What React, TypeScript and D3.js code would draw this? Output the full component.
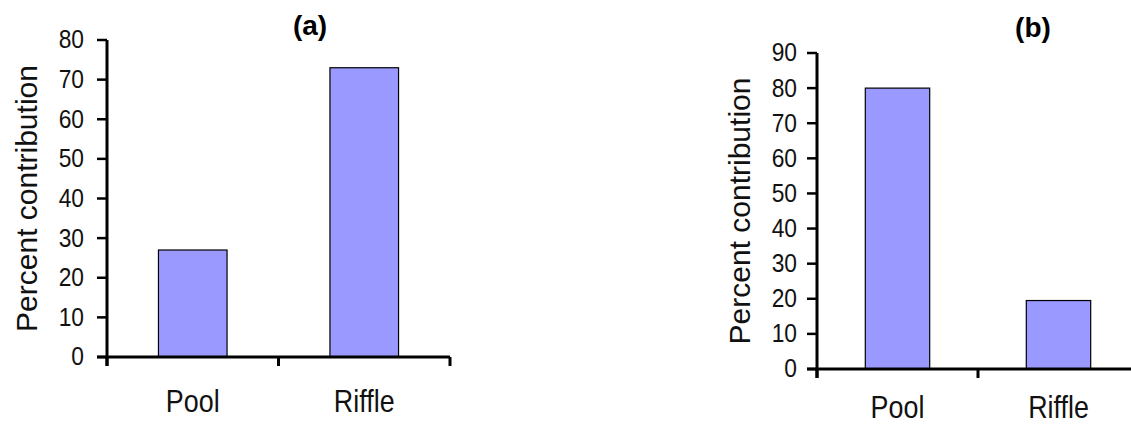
import React from "react";
import * as d3 from "d3";

// chart values
const categories = ["Pool", "Riffle"];
const valuesA = [27, 73];
const valuesB = [80, 19.5];
const yTicksA = [0, 10, 20, 30, 40, 50, 60, 70, 80];
const yTicksB = [0, 10, 20, 30, 40, 50, 60, 70, 80, 90];
const titles = ["(a)", "(b)"];
const yLabel = "Percent contribution";

const FONT = "'Liberation Sans', Arial, sans-serif";

const panels = [
  {
    title: titles[0],
    values: valuesA,
    ticks: yTicksA,
    left: 107,
    right: 450,
    top: 40,
    bottom: 357,
    titleX: 310,
    titleY: 35,
    labelX: 37,
    catY: 412,
    tickGap: 23,
  },
  {
    title: titles[1],
    values: valuesB,
    ticks: yTicksB,
    left: 817,
    right: 1139,
    top: 53,
    bottom: 369,
    titleX: 1033,
    titleY: 37,
    labelX: 750,
    catY: 418,
    tickGap: 20,
  },
];

// stretch a text around its anchor point
const stretch = (x, y, sx, sy) =>
  `translate(${x},${y}) scale(${sx},${sy}) translate(${-x},${-y})`;

const Panel = ({ p }) => {
  const x = d3
    .scaleBand()
    .domain(categories)
    .range([p.left, p.right])
    .paddingInner(0.6)
    .paddingOuter(0.3);

  const y = d3
    .scaleLinear()
    .domain([0, d3.max(p.ticks)])
    .range([p.bottom, p.top]);

  const step = x.step();
  // category boundary ticks on the x axis
  const xTicks = d3.range(categories.length + 1).map((i) => p.left + i * step);
  const midY = (p.top + p.bottom) / 2;

  return (
    <g>
      <text
        x={p.titleX}
        y={p.titleY}
        textAnchor="middle"
        fontFamily={FONT}
        fontWeight="bold"
        fontSize={28}
      >
        {p.title}
      </text>

      {categories.map((c, i) => (
        <rect
          key={c}
          x={x(c)}
          y={y(p.values[i])}
          width={x.bandwidth()}
          height={y(0) - y(p.values[i])}
          fill="#9999ff"
          stroke="#000"
          strokeWidth={1.2}
        />
      ))}

      {/* y axis */}
      <line x1={p.left} x2={p.left} y1={p.top} y2={p.bottom + 9} stroke="#000" strokeWidth={3} />
      {p.ticks.map((t) => (
        <g key={t}>
          <line x1={p.left - 10} x2={p.left} y1={y(t)} y2={y(t)} stroke="#000" strokeWidth={2.5} />
          <text
            x={p.left - p.tickGap}
            y={y(t) + 8.5}
            textAnchor="end"
            fontFamily={FONT}
            fontSize={24}
            fill="#111"
            transform={stretch(p.left - p.tickGap, y(t) + 8.5, 0.95, 1.08)}
          >
            {t}
          </text>
        </g>
      ))}

      {/* x axis */}
      <line x1={p.left - 10} x2={p.right} y1={p.bottom} y2={p.bottom} stroke="#000" strokeWidth={3} />
      {xTicks.map((tx, i) => (
        <line key={i} x1={tx} x2={tx} y1={p.bottom} y2={p.bottom + 9} stroke="#000" strokeWidth={3} />
      ))}
      {categories.map((c) => {
        const cx = x(c) + x.bandwidth() / 2;
        return (
          <text
            key={c}
            x={cx}
            y={p.catY}
            textAnchor="middle"
            fontFamily={FONT}
            fontSize={28}
            fill="#111"
            transform={stretch(cx, p.catY, 0.96, 1.1)}
          >
            {c}
          </text>
        );
      })}

      <text
        transform={`translate(${p.labelX},${midY}) rotate(-90)`}
        textAnchor="middle"
        fontFamily={FONT}
        fontSize={30}
        fill="#111"
      >
        {yLabel}
      </text>
    </g>
  );
};

export default function App() {
  return (
    <svg
      width={1131}
      height={425}
      style={{ position: "absolute", left: 0, top: 0, background: "#fff" }}
    >
      {panels.map((p) => (
        <Panel key={p.title} p={p} />
      ))}
    </svg>
  );
}
